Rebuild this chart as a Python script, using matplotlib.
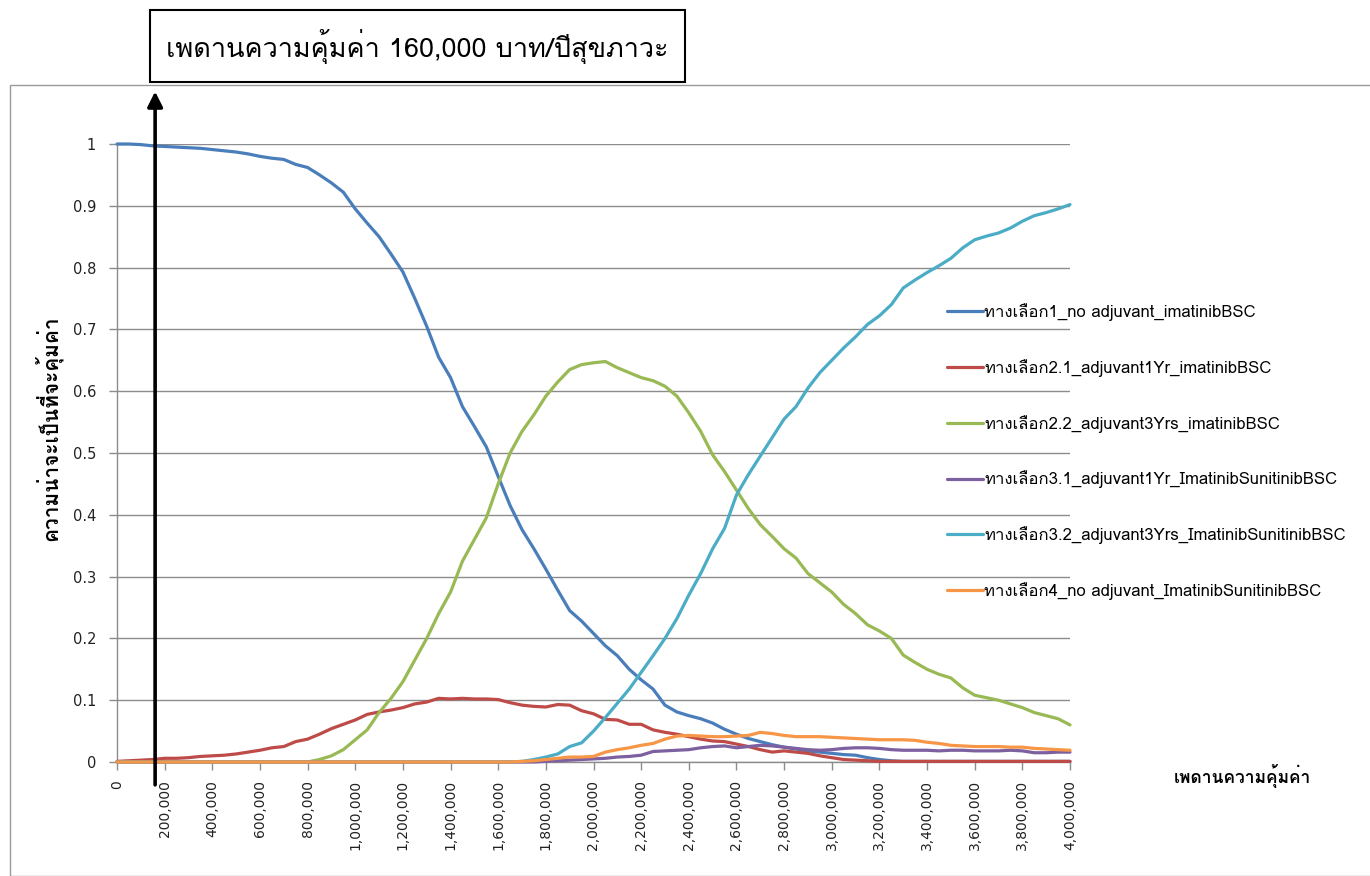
import numpy as np
import matplotlib
matplotlib.use("Agg")
import matplotlib.pyplot as plt
from matplotlib import font_manager
from matplotlib.ft2font import FT2Font
from matplotlib.patches import Rectangle

# ---------------------------------------------------------------------------
# Data: probability of being cost-effective vs. willingness-to-pay threshold
# ---------------------------------------------------------------------------
wtp = np.arange(0, 4_000_001, 50_000)

opt1_no_adj_imatinib = [
    1.000, 1.000, 0.999, 0.997, 0.996, 0.995, 0.994, 0.993, 0.991, 0.989,
    0.987, 0.984, 0.980, 0.977, 0.975, 0.967, 0.962, 0.950, 0.937, 0.922,
    0.895, 0.872, 0.850, 0.822, 0.793, 0.750, 0.705, 0.655, 0.622, 0.575,
    0.543, 0.510, 0.462, 0.415, 0.376, 0.345, 0.312, 0.278, 0.245, 0.228,
    0.208, 0.188, 0.172, 0.150, 0.133, 0.118, 0.092, 0.081, 0.075, 0.070,
    0.063, 0.053, 0.045, 0.038, 0.033, 0.028, 0.024, 0.021, 0.018, 0.016,
    0.014, 0.012, 0.011, 0.007, 0.004, 0.002, 0.001, 0.001, 0.001, 0.001,
    0.001, 0.001, 0.001, 0.001, 0.001, 0.001, 0.001, 0.001, 0.001, 0.001,
    0.001,
]

opt21_adj1yr_imatinib = [
    0.001, 0.002, 0.003, 0.004, 0.006, 0.006, 0.007, 0.009, 0.010, 0.011,
    0.013, 0.016, 0.019, 0.023, 0.025, 0.033, 0.037, 0.045, 0.054, 0.061,
    0.068, 0.077, 0.081, 0.084, 0.088, 0.094, 0.097, 0.103, 0.102, 0.103,
    0.102, 0.102, 0.101, 0.096, 0.092, 0.090, 0.089, 0.093, 0.092, 0.083,
    0.078, 0.069, 0.068, 0.061, 0.061, 0.052, 0.048, 0.045, 0.041, 0.037,
    0.034, 0.033, 0.029, 0.025, 0.020, 0.016, 0.018, 0.016, 0.014, 0.010,
    0.007, 0.004, 0.003, 0.002, 0.001, 0.001, 0.001, 0.001, 0.001, 0.001,
    0.001, 0.001, 0.001, 0.001, 0.001, 0.001, 0.001, 0.001, 0.001, 0.001,
    0.001,
]

opt22_adj3yrs_imatinib = [
    0.000, 0.000, 0.000, 0.000, 0.000, 0.000, 0.000, 0.000, 0.000, 0.000,
    0.000, 0.000, 0.000, 0.000, 0.000, 0.000, 0.000, 0.004, 0.010, 0.020,
    0.036, 0.052, 0.080, 0.103, 0.130, 0.165, 0.200, 0.240, 0.275, 0.325,
    0.360, 0.395, 0.450, 0.500, 0.535, 0.562, 0.592, 0.615, 0.635, 0.643,
    0.646, 0.648, 0.638, 0.630, 0.622, 0.617, 0.608, 0.592, 0.565, 0.535,
    0.497, 0.470, 0.440, 0.410, 0.384, 0.365, 0.345, 0.330, 0.305, 0.290,
    0.275, 0.255, 0.240, 0.222, 0.212, 0.200, 0.173, 0.161, 0.150, 0.142,
    0.136, 0.120, 0.108, 0.104, 0.100, 0.094, 0.088, 0.080, 0.075, 0.070,
    0.060,
]

opt31_adj1yr_ima_suni = [
    0.000, 0.000, 0.000, 0.000, 0.000, 0.000, 0.000, 0.000, 0.000, 0.000,
    0.000, 0.000, 0.000, 0.000, 0.000, 0.000, 0.000, 0.000, 0.000, 0.000,
    0.000, 0.000, 0.000, 0.000, 0.000, 0.000, 0.000, 0.000, 0.000, 0.000,
    0.000, 0.000, 0.000, 0.000, 0.000, 0.000, 0.001, 0.002, 0.003, 0.004,
    0.005, 0.006, 0.008, 0.009, 0.011, 0.017, 0.018, 0.019, 0.020, 0.023,
    0.025, 0.026, 0.023, 0.025, 0.027, 0.026, 0.024, 0.022, 0.020, 0.019,
    0.020, 0.022, 0.023, 0.023, 0.022, 0.020, 0.019, 0.019, 0.019, 0.018,
    0.019, 0.019, 0.018, 0.018, 0.018, 0.019, 0.018, 0.015, 0.015, 0.016,
    0.016,
]

opt32_adj3yrs_ima_suni = [
    0.000, 0.000, 0.000, 0.000, 0.000, 0.000, 0.000, 0.000, 0.000, 0.000,
    0.000, 0.000, 0.000, 0.000, 0.000, 0.000, 0.000, 0.000, 0.000, 0.000,
    0.000, 0.000, 0.000, 0.000, 0.000, 0.000, 0.000, 0.000, 0.000, 0.000,
    0.000, 0.000, 0.000, 0.000, 0.001, 0.004, 0.008, 0.013, 0.025, 0.031,
    0.050, 0.072, 0.095, 0.118, 0.145, 0.172, 0.200, 0.232, 0.270, 0.305,
    0.345, 0.378, 0.432, 0.465, 0.495, 0.525, 0.555, 0.575, 0.605, 0.630,
    0.650, 0.670, 0.688, 0.708, 0.722, 0.740, 0.767, 0.780, 0.792, 0.803,
    0.815, 0.832, 0.845, 0.851, 0.856, 0.864, 0.875, 0.884, 0.889, 0.895,
    0.902,
]

opt4_no_adj_ima_suni = [
    0.000, 0.000, 0.000, 0.000, 0.000, 0.000, 0.000, 0.000, 0.000, 0.000,
    0.000, 0.000, 0.000, 0.000, 0.000, 0.000, 0.000, 0.000, 0.000, 0.000,
    0.000, 0.000, 0.000, 0.000, 0.000, 0.000, 0.000, 0.000, 0.000, 0.000,
    0.000, 0.000, 0.000, 0.000, 0.001, 0.002, 0.004, 0.006, 0.008, 0.008,
    0.009, 0.016, 0.020, 0.023, 0.027, 0.030, 0.037, 0.042, 0.043, 0.042,
    0.041, 0.041, 0.042, 0.043, 0.048, 0.046, 0.043, 0.041, 0.041, 0.041,
    0.040, 0.039, 0.038, 0.037, 0.036, 0.036, 0.036, 0.035, 0.032, 0.030,
    0.027, 0.026, 0.025, 0.025, 0.025, 0.024, 0.024, 0.022, 0.021, 0.020,
    0.019,
]

series_labels = [
    "ทางเลือก1_no adjuvant_imatinibBSC",
    "ทางเลือก2.1_adjuvant1Yr_imatinibBSC",
    "ทางเลือก2.2_adjuvant3Yrs_imatinibBSC",
    "ทางเลือก3.1_adjuvant1Yr_ImatinibSunitinibBSC",
    "ทางเลือก3.2_adjuvant3Yrs_ImatinibSunitinibBSC",
    "ทางเลือก4_no adjuvant_ImatinibSunitinibBSC",
]
series_colors = ["#4A7EBB", "#BE4B48", "#98B954", "#7D60A0", "#4BACC6", "#F79646"]

threshold = 160_000
threshold_text = "เพดานความคุ้มค่า 160,000 บาท/ปีสุขภาวะ"
x_title = "เพดานความคุ้มค่า"
y_title = "ความน่าจะเป็นที่จะคุ้มค่า"
x_ticks = np.arange(0, 4_000_001, 200_000)
y_ticks = np.round(np.arange(0, 1.01, 0.1), 1)


# ---------------------------------------------------------------------------
# Font: pick an installed family that covers Thai script
# ---------------------------------------------------------------------------
def find_thai_family():
    for entry in font_manager.fontManager.ttflist:
        try:
            cmap = FT2Font(entry.fname).get_charmap()
        except Exception:
            continue
        if 0x0E17 in cmap and 0x0E40 in cmap and 0x0E49 in cmap:
            return entry.name
    return None


thai = find_thai_family()
families = ([thai] if thai else []) + ["DejaVu Sans"]
plt.rcParams["font.family"] = families

# ---------------------------------------------------------------------------
# Figure
# ---------------------------------------------------------------------------
W, H = 1370, 876
fig = plt.figure(figsize=(W / 100, H / 100), dpi=100)
fig.patch.set_facecolor("white")

# chart-area border
fig.patches.append(Rectangle((10 / W, 0), (W + 20) / W, 1 - 85 / H,
                             transform=fig.transFigure, fill=False,
                             edgecolor="#9a9a9a", linewidth=1.0))

ax = fig.add_axes([117 / W, 1 - 762 / H, (1070 - 117) / W, (762 - 144) / H])
ax.set_facecolor("none")

all_series = [opt1_no_adj_imatinib, opt21_adj1yr_imatinib, opt22_adj3yrs_imatinib,
              opt31_adj1yr_ima_suni, opt32_adj3yrs_ima_suni, opt4_no_adj_ima_suni]
for vals, lab, col in zip(all_series, series_labels, series_colors):
    ax.plot(wtp, vals, color=col, linewidth=2.3, label=lab, clip_on=False,
            solid_joinstyle="round", solid_capstyle="round", zorder=3)

ax.set_xlim(0, 4_000_000)
ax.set_ylim(0, 1)
ax.set_xticks(x_ticks)
ax.set_xticklabels([f"{v:,.0f}" for v in x_ticks], rotation=90, va="top",
                   ha="center", fontsize=10, color="#222222",
                   family="DejaVu Sans")
ax.set_yticks(y_ticks)
ax.set_yticklabels([f"{v:g}" for v in y_ticks], fontsize=10.5,
                   color="#222222", family="DejaVu Sans")

ax.grid(axis="y", color="#8c8c8c", linewidth=1.0, zorder=0)
ax.set_axisbelow(True)
for side in ("top", "right"):
    ax.spines[side].set_visible(False)
for side in ("left", "bottom"):
    ax.spines[side].set_color("#8c8c8c")
    ax.spines[side].set_linewidth(1.0)
ax.tick_params(axis="y", length=6, width=1, color="#8c8c8c", pad=9)
ax.tick_params(axis="x", length=6, width=1, color="#8c8c8c", pad=7)

# axis titles
fig.text(48 / W, 1 - 428 / H, y_title, rotation=90, ha="center", va="center",
         fontsize=15, fontweight="bold")
fig.text(1242 / W, 1 - 776 / H, x_title, ha="center", va="center",
         fontsize=12.5, fontweight="bold")

# legend
ax.legend(loc="upper left", bbox_to_anchor=(947 / W, 1 - 303 / H),
          bbox_transform=fig.transFigure, frameon=False, fontsize=12,
          handlelength=2.15, handletextpad=0.1, labelspacing=2.28,
          borderpad=0, borderaxespad=0)

# threshold arrow
ax.annotate("", xy=(threshold, 1.085), xytext=(threshold, -0.037),
            xycoords="data", textcoords="data", annotation_clip=False,
            arrowprops=dict(arrowstyle="-|>,head_length=0.9,head_width=0.45",
                            color="black", linewidth=2.6, shrinkA=0, shrinkB=0),
            zorder=5)

# threshold caption box
fig.patches.append(Rectangle((150 / W, 1 - 82 / H), (685 - 150) / W, 72 / H,
                             transform=fig.transFigure, fill=False,
                             edgecolor="black", linewidth=1.5))
fig.text(417 / W, 1 - 47 / H, threshold_text, ha="center", va="center",
         fontsize=19.5)

fig.savefig("out.png", dpi=100)
